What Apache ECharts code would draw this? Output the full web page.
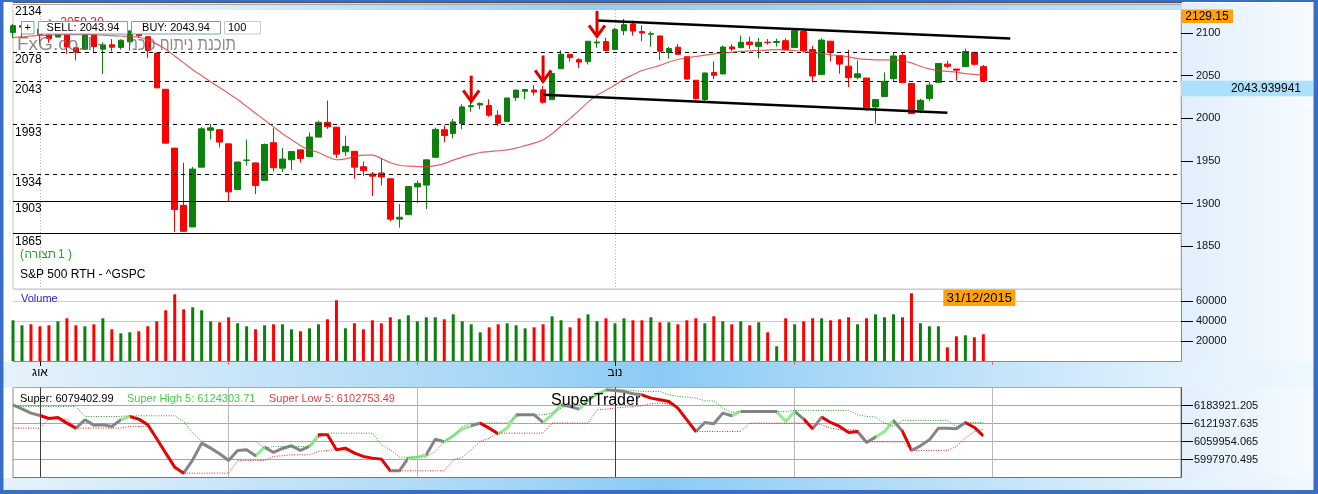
<!DOCTYPE html>
<html><head><meta charset="utf-8">
<script src="https://cdn.jsdelivr.net/npm/echarts@6/dist/echarts.min.js"></script>
<style>html,body{margin:0;padding:0;background:#fff;overflow:hidden}#c{width:1318px;height:494px}</style>
</head><body><div id="c"></div>
<script>
// ---------- DATA ----------
const tradingDays = [
  ['2015-07', [29,30,31]],
  ['2015-08', [3,4,5,6,7,10,11,12,13,14,17,18,19,20,21,24,25,26,27,28,31]],
  ['2015-09', [1,2,3,4,8,9,10,11,14,15,16,17,18,21,22,23,24,25,28,29,30]],
  ['2015-10', [1,2,5,6,7,8,9,12,13,14,15,16,19,20,21,22,23,26,27,28,29,30]],
  ['2015-11', [2,3,4,5,6,9,10,11,12,13,16,17,18,19,20,23,24,25,27,30]],
  ['2015-12', [1,2,3,4,7,8,9,10,11,14,15,16,17,18,21,22,23,24,28,29,30,31]],
  ['2016-01', [4,5,6,7,8,11,12,13,14,15,19,20,21,22,25,26,27,28,29]],
  ['2016-02', [1,2,3]]
];
const monthStarts = ['2015-08-03','2015-09-01','2015-10-01','2015-11-02','2015-12-01','2016-01-04'];
const monthNames = {'2015-08-03':'אוג','2015-11-02':'נוב'};

const opens = [2100.67,2106.78,2111.6,2104.49,2097.68,2095.27,2100.13,2082.61,2080.98,2102.66,
2081.1,2086.19,2083.15,2089.7,2101.99,2095.69,2076.61,2034.08,1965.15,1898.08,
1872.75,1942.77,1986.06,1986.73,1970.09,1916.52,1950.79,1947.76,1927.3,1971.45,
1941.59,1951.45,1963.06,1955.1,1978.02,1995.33,1989.66,1960.84,1961.39,1943.24,
1934.81,1935.93,1929.18,1881.9,1887.14,1919.65,1921.77,1954.33,1986.63,1982.34,
1994.01,2013.73,2015.65,2015,2003.66,1996.47,2024.37,2031.73,2033.13,2033.47,
2021.88,2058.19,2075.08,2068.75,2066.48,2088.35,2090,2080.76,2102.63,2110.6,
2101.68,2098.6,2096.56,2077.19,2083.41,2072.29,2044.64,2022.08,2053.67,2051.99,
2083.7,2082.82,2089.41,2084.42,2089.3,2088.82,2090.95,2082.93,2101.71,2080.71,
2051.24,2090.42,2073.39,2061.17,2047.93,2047.27,2013.37,2025.55,2046.5,2073.76,
2040.81,2010.27,2023.15,2042.2,2063.52,2057.77,2060.54,2077.34,2060.59];
const highs = [2110.6,2110.48,2114.24,2105.7,2102.51,2112.66,2103.32,2082.61,2105.35,2102.66,
2089.06,2092.93,2092.45,2102.87,2103.47,2096.17,2076.61,2034.08,1965.15,1948.04,
1943.09,1989.6,1993.48,1986.73,1970.09,1948.91,1975.01,1947.76,1970.42,1988.63,
1965.29,1961.05,1963.06,1983.52,1997.26,2020.86,1989.66,1979.64,1961.39,1949.52,
1937.17,1952.89,1929.18,1899.48,1920.53,1927.21,1951.36,1989.17,1991.62,1999.31,
2016.5,2020.13,2018.66,2022.34,2009.56,2024.15,2033.54,2034.45,2039.12,2037.97,
2055.2,2079.74,2075.14,2070.37,2090.35,2092.52,2094.32,2106.2,2116.48,2114.59,
2108.78,2101.91,2096.56,2083.67,2086.94,2072.29,2044.64,2053.22,2066.69,2085.31,
2086.74,2097.06,2095.61,2094.12,2093,2093.29,2093.81,2103.37,2104.27,2085,
2093.84,2090.42,2073.85,2080.33,2067.65,2047.27,2022.92,2053.87,2076.72,2076.37,
2040.81,2022.9,2042.74,2064.73,2067.36,2057.77,2081.56,2077.34,2062.54];
const lows = [2094.08,2094.97,2102.07,2087.31,2088.6,2095.27,2075.53,2067.91,2080.98,2076.49,
2052.09,2078.26,2080.61,2079.3,2094.14,2070.53,2035.73,1970.89,1867.01,1867.08,
1872.75,1942.77,1975.19,1965.98,1903.07,1916.52,1944.72,1911.21,1927.3,1937.88,
1937.19,1939.19,1948.27,1954.3,1977.93,1987.67,1953.45,1955.8,1929.22,1932.57,
1908.92,1921.5,1879.21,1871.91,1887.14,1900.7,1893.7,1954.33,1971.99,1976.44,
1987.53,2007.61,2010.55,2001.78,1990.73,1996.47,2020.46,2022.31,2026.61,2017.22,
2021.88,2058.19,2066.53,2058.84,2063.11,2082.63,2079.34,2080.76,2097.51,2096.98,
2090.41,2083.74,2068.24,2069.91,2074.85,2045.66,2022.02,2019.94,2045.9,2051.99,
2078.76,2082.82,2081.39,2070.29,2086.3,2084.13,2080.41,2082.93,2077.11,2042.35,
2051.24,2066.78,2052.32,2036.53,2045.67,2008.8,1993.26,2025.55,2042.43,2041.66,
2005.33,2005.93,2020.49,2042.2,2058.73,2044.2,2060.54,2061.97,2043.62];
const closes = [2108.57,2108.63,2103.84,2098.04,2093.32,2099.84,2083.56,2077.57,2104.18,2084.07,
2086.05,2083.39,2091.54,2102.44,2096.92,2079.61,2035.73,1970.89,1893.21,1867.61,
1940.51,1987.66,1988.87,1972.18,1913.85,1948.86,1951.13,1921.22,1969.41,1942.04,
1952.29,1961.05,1953.03,1978.09,1995.31,1990.2,1958.03,1966.97,1942.74,1938.76,
1932.24,1931.34,1881.77,1884.09,1920.03,1923.82,1951.36,1987.05,1979.92,1995.83,
2013.43,2014.89,2017.46,2003.69,1994.24,2023.86,2033.11,2033.66,2030.77,2018.94,
2052.51,2075.15,2071.18,2065.89,2090.35,2089.41,2079.36,2104.05,2109.79,2102.31,
2099.93,2099.2,2078.58,2081.72,2075,2045.97,2023.04,2053.19,2050.44,2083.58,
2081.24,2089.17,2086.59,2089.14,2088.87,2090.11,2080.41,2102.63,2079.51,2049.62,
2091.69,2077.07,2063.59,2047.62,2052.23,2012.37,2021.94,2043.41,2073.07,2041.89,
2005.55,2021.15,2038.97,2064.29,2060.99,2056.5,2078.36,2063.36,2043.94];
const volumes = [40700,35700,36700,34700,35700,39700,42700,35700,34700,36700,
42700,31700,27700,28700,29700,34700,39700,50700,66700,51700,
53700,50700,39700,38700,43700,37700,34700,31700,35700,36700,
36700,31700,29700,32700,36700,41700,60700,32700,37700,31700,
40700,37700,43700,41700,45700,39700,43700,43700,41700,46700,
39700,36700,28700,33700,36700,37700,35700,32700,33700,36700,
44700,40700,33700,42700,46700,39700,42700,37700,42700,40700,
40700,43700,38700,38700,36700,40700,42700,37700,44700,39700,
36700,39700,35700,38700,28700,14700,42700,36700,39700,42700,
42700,40700,41700,43700,36700,42700,46700,43700,46700,43700,
67700,37700,34700,34700,13700,24700,25700,23700,26700];
const ma20 = [2094.5,2095.5,2096.5,2097,2097.5,2098,2098,2098,2098,2098,
2097.5,2097,2096.5,2096,2095,2092,2087,2081,2073,2065,
2057,2050,2043,2036,2029,2022,2014,2006,1998,1990,
1982,1975,1968,1963,1960,1955,1951.5,1952.5,1955,1957,
1957,1953,1948,1945,1944,1943.5,1943.5,1944.5,1947,1951,
1954.5,1957.5,1960,1961,1962,1963,1965,1968,1971,1975,
1982,1991,2000,2009,2019,2027,2033,2039,2046,2051,
2056,2059,2062,2066,2069,2071,2072.5,2074,2075.5,2076.5,
2077.5,2078.5,2079,2079.5,2080,2080.5,2080,2079.5,2078.5,2077,
2076,2074.5,2073.5,2072,2070,2069,2068.5,2068.5,2068.5,2067.5,
2065,2061,2058,2056,2055,2054,2052.5,2051.5,2050.3];
const superLine = [6186330,6172560,6157640,6149600,6139270,6142720,6123200,6105990,6134680,6116320,
6117460,6111730,6134680,6146160,6136980,6117460,6069260,6019900,5971690,5951030,
5996950,6054340,6037120,6017610,5994650,6029080,6031380,6010720,6040560,6022200,
6035970,6045150,6029080,6042860,6083030,6083030,6031380,6037120,6019900,6008420,
6002680,5999240,5959070,5959070,6002680,6006130,6014160,6068110,6058930,6079590,
6102540,6114020,6123200,6105990,6086470,6105990,6151900,6151900,6151900,6125500,
6151900,6186330,6180590,6171410,6201250,6224210,6237980,6235690,6232240,6224210,
6220770,6209290,6203550,6197810,6174850,6134680,6094510,6125500,6120910,6157640,
6148460,6163380,6163380,6163380,6163380,6163380,6128940,6163380,6136980,6103690,
6143860,6125500,6111730,6091070,6094510,6056630,6075000,6094510,6132390,6094510,
6029080,6045150,6065810,6105990,6105990,6103690,6125500,6108280,6079402.99];
const superHigh5 = [6180590,6180590,6180590,6180590,6180590,6180590,6180590,6180590,6146160,6146160,
6146160,6146160,6146160,6148460,6148460,6148460,6148460,6148460,6148460,6128940,
6088770,6060070,6060070,6060070,6060070,6060070,6060070,6060070,6037120,6042860,
6042860,6042860,6042860,6042860,6071550,6088770,6088770,6088770,6088770,6088770,
6088770,6048600,6031380,6006130,6006130,6006130,6006130,6025640,6060070,6077290,
6111730,6123200,6123200,6123200,6123200,6123200,6146160,6151900,6151900,6151900,
6157640,6174850,6186330,6186330,6197810,6220770,6235690,6237980,6237980,6235690,
6232240,6232240,6232240,6220770,6215030,6212730,6209290,6200100,6200100,6174850,
6159930,6163380,6163380,6163380,6163380,6163380,6163380,6166820,6166820,6166820,
6166820,6166820,6166820,6166820,6151900,6146160,6143860,6123200,6111730,6132390,
6132390,6132390,6132390,6132390,6132390,6111730,6125500,6125500,6124303.71];
const superLow5 = [6105990,6105990,6105990,6105990,6136980,6136980,6136980,6105990,6105990,6105990,
6105990,6105990,6105990,6111730,6111730,6111730,6065810,6017610,5971690,5951030,
5951030,5951030,5951030,5951030,5951030,5994650,5994650,5994650,5994650,6008420,
6010720,6014160,6014160,6014160,6025640,6029080,6031380,6029080,6025640,6010720,
5999240,5996950,5962510,5959070,5959070,5959070,5959070,5959070,5959070,5996950,
6006130,6031380,6060070,6071550,6088770,6088770,6088770,6088770,6088770,6088770,
6123200,6123200,6123200,6123200,6123200,6169120,6171410,6174850,6178300,6180590,
6182890,6189770,6192070,6189770,6174850,6134680,6094510,6094510,6094510,6094510,
6094510,6094510,6123200,6123200,6123200,6123200,6123200,6123200,6123200,6120910,
6117460,6105990,6100250,6100250,6100250,6058930,6058930,6058930,6058930,6058930,
6029080,6029080,6029080,6029080,6029080,6042860,6071550,6094510,6102753.49];
// trend state of each Super segment: g = neutral, r = falling, l = rising
const superState = 'ggg'+'rrrr'+'ggggg'+'l'+'rrrrrr'+'gggggggg'+'l'+'ggggg'+'l'+'rrrrrrrr'+'gg'+'ll'+'gg'+'lll'+'g'+'rr'+'ll'+'ggg'+'ll'+'gg'+'lll'+'gggg'+'rrrrrr'+'gggg'+'l'+'gggg'+'ll'+'g'+'r'+'g'+'rrrr'+'gg'+'ll'+'g'+'r'+'gggggg'+'rr';

const dashedLevels = [2078, 2043, 1993, 1934];
const solidLevels = [1903, 1865];
const topLevel = 2134;
const upperTrend = [['2015-10-29', 2114.8], ['2016-01-06', 2093.7]];
const lowerTrend = [['2015-10-21', 2027.7], ['2015-12-24', 2006.6]];
const arrows = [['2015-10-09', 2050, 2019.8], ['2015-10-21', 2073.7, 2043.3], ['2015-10-29', 2126, 2096]];
const headerPrice = 2129.15;
const lastPriceLabel = '2043.939941';
const lastDateLabel = '31/12/2015';
const hiddenQuote = '2059.30';
const superAxis = {min: 5935986.925, max: 6245904.775, interval: 61983.57};

// ---------- BUILD ----------
const dates = [];
tradingDays.forEach(([m, ds]) => ds.forEach(d => dates.push(m + '-' + String(d).padStart(2, '0'))));
const n = closes.length;
const FONT = '"Liberation Sans", Arial, sans-serif';
const GREEN = '#0b800b', RED = '#ff0000';
const fmt2 = v => v.toFixed(2);

const chart = echarts.init(document.getElementById('c'), null, {renderer: 'canvas', width: 1318, height: 494});

const stateColor = {g: '#858585', r: '#e40000', l: '#92ea92'};
const pieces = [];
for (let i = 0; i < superState.length; i++) {
  const c = stateColor[superState[i]];
  const last = pieces[pieces.length - 1];
  if (last && last.color === c && last.lt === i) last.lt = i + 1;
  else pieces.push({gte: i, lt: i + 1, color: c});
}

const L = 13, R = 137;
const option = {
  animation: false,
  backgroundColor: '#ffffff',
  textStyle: {fontFamily: FONT},
  grid: [
    {left: L, right: R, top: 4, height: 285, show: true, borderColor: '#c4c4c4', borderWidth: 1, backgroundColor: 'transparent'},
    {left: L, right: R, top: 289, height: 72, show: false},
    {left: L, right: R, top: 387.5, height: 90, show: true, borderColor: '#8c8c8c', borderWidth: 1, backgroundColor: '#ffffff'}
  ],
  xAxis: [
    {type: 'category', gridIndex: 0, data: dates, boundaryGap: false,
     axisLine: {show: false}, axisTick: {show: false}, axisLabel: {show: false},
     splitLine: {show: true, interval: (i, v) => v in monthNames, lineStyle: {color: '#b4b4b4', type: [1, 2]}}},
    {type: 'category', gridIndex: 1, data: dates, boundaryGap: false, position: 'bottom',
     axisLine: {show: true, lineStyle: {color: '#8c8c8c'}},
     axisTick: {show: true, length: 5, interval: (i, v) => v in monthNames, lineStyle: {color: '#000'}},
     axisLabel: {show: true, interval: (i, v) => v in monthNames, formatter: v => monthNames[v] || '',
                 fontSize: 12, color: '#000', margin: 6, fontFamily: FONT},
     splitLine: {show: false}},
    {type: 'category', gridIndex: 1, data: dates, boundaryGap: false, position: 'bottom',
     axisLine: {show: false},
     axisTick: {show: true, length: 4, interval: (i, v) => monthStarts.includes(v) && !(v in monthNames), lineStyle: {color: '#e06c6c'}},
     axisLabel: {show: false}, splitLine: {show: false}},
    {type: 'category', gridIndex: 2, data: dates, boundaryGap: false,
     axisLine: {show: true, lineStyle: {color: '#777'}}, axisTick: {show: false}, axisLabel: {show: false},
     splitLine: {show: true, interval: (i, v) => monthStarts.includes(v), lineStyle: {color: ['#3c3c3c', '#b8b8b8', '#b8b8b8'], width: 1}}}
  ],
  yAxis: [
    {type: 'value', gridIndex: 0, position: 'right', min: 1800, max: topLevel, interval: 50,
     axisLine: {show: true, lineStyle: {color: '#9a9a9a', type: [1, 1]}},
     axisTick: {show: true, length: 12, lineStyle: {color: '#000'}},
     axisLabel: {show: true, margin: 15, fontSize: 11, color: '#111', fontFamily: FONT, showMinLabel: false, showMaxLabel: false,
                 formatter: v => String(Math.round(v))},
     splitLine: {show: false}},
    {type: 'value', gridIndex: 1, position: 'right', min: 0, max: 72000, interval: 20000,
     axisLine: {show: true, lineStyle: {color: '#8c8c8c'}},
     axisTick: {show: true, length: 12, lineStyle: {color: '#000'}},
     axisLabel: {show: true, margin: 15, fontSize: 11, color: '#111', fontFamily: FONT, showMinLabel: false, showMaxLabel: false,
                 formatter: v => String(Math.round(v))},
     splitLine: {show: true, lineStyle: {color: '#cdcdcd'}}},
    {type: 'value', gridIndex: 2, position: 'right', min: superAxis.min, max: superAxis.max, interval: superAxis.interval,
     axisLine: {show: true, lineStyle: {color: '#555'}},
     axisTick: {show: true, length: 12, lineStyle: {color: '#000'}},
     axisLabel: {show: true, margin: 13, fontSize: 11, color: '#111', fontFamily: FONT, showMinLabel: false, showMaxLabel: false,
                 formatter: v => (Math.round(v * 1000) / 1000).toFixed(3)},
     splitLine: {show: true, lineStyle: {color: '#a8a8a8'}}}
  ],
  visualMap: [{type: 'piecewise', show: false, dimension: 0, seriesIndex: 6, pieces: pieces, outOfRange: {color: '#858585'}}],
  series: [
    {type: 'candlestick', name: 'S&P 500', xAxisIndex: 0, yAxisIndex: 0, barWidth: 6, z: 2,
     data: opens.map((o, i) => [o, closes[i], lows[i], highs[i]]),
     itemStyle: {color: GREEN, color0: RED, borderColor: GREEN, borderColor0: RED, borderWidth: 1},
     markLine: {symbol: 'none', silent: true, animation: false, z: 3,
       label: {show: true, position: 'insideStartBottom', formatter: '{c}', color: '#000', fontSize: 12, fontFamily: FONT, distance: 2},
       data: [
         ...dashedLevels.map(v => ({yAxis: v, lineStyle: {type: [4, 4], color: '#000', width: 1}})),
         ...solidLevels.map(v => ({yAxis: v, lineStyle: {type: 'solid', color: '#000', width: 1}})),
         {yAxis: topLevel, lineStyle: {type: 'solid', color: '#a8a8a8', width: 1}}
       ]}},
    {type: 'line', name: 'MA20', xAxisIndex: 0, yAxisIndex: 0, data: ma20, symbol: 'none', smooth: 0.3, z: 3,
     lineStyle: {color: '#e03a3a', width: 1.2, opacity: 0.8}},
    {type: 'line', name: 'upper', xAxisIndex: 0, yAxisIndex: 0, data: upperTrend, symbol: 'none', z: 4,
     lineStyle: {color: '#000', width: 2.5}},
    {type: 'line', name: 'lower', xAxisIndex: 0, yAxisIndex: 0, data: lowerTrend, symbol: 'none', z: 4,
     lineStyle: {color: '#000', width: 2.5}},
    {type: 'custom', name: 'arrows', xAxisIndex: 0, yAxisIndex: 0, data: arrows, encode: {x: 0, y: [1, 2]}, z: 5,
     renderItem: (params, api) => {
       const top = api.coord([api.value(0), api.value(1)]);
       const tip = api.coord([api.value(0), api.value(2)]);
       return {type: 'group', children: [
         {type: 'line', shape: {x1: top[0], y1: top[1], x2: tip[0], y2: tip[1] - 1}, style: {stroke: '#e00000', lineWidth: 3}},
         {type: 'polyline', shape: {points: [[tip[0] - 8, tip[1] - 11], [tip[0], tip[1]], [tip[0] + 8, tip[1] - 11]]},
          style: {stroke: '#e00000', lineWidth: 3, fill: null}}
       ]};
     }},
    {type: 'bar', name: 'Volume', xAxisIndex: 1, yAxisIndex: 1, barWidth: 3,
     data: volumes.map((v, i) => ({value: v, itemStyle: {color: closes[i] >= opens[i] ? GREEN : RED}}))},
    {type: 'line', name: 'Super', xAxisIndex: 3, yAxisIndex: 2, data: superLine, symbol: 'none', z: 4,
     lineStyle: {width: 3}},
    {type: 'line', name: 'Super High 5', xAxisIndex: 3, yAxisIndex: 2, data: superHigh5, symbol: 'none', z: 5,
     lineStyle: {color: '#2f9a2f', width: 1, type: [1, 1.5]}},
    {type: 'line', name: 'Super Low 5', xAxisIndex: 3, yAxisIndex: 2, data: superLow5, symbol: 'none', z: 5,
     lineStyle: {color: '#e02424', width: 1, type: [1, 1.5]}}
  ]
};
chart.setOption(option);

// ---------- OVERLAYS ----------
const yLast = chart.convertToPixel({yAxisIndex: 0}, closes[n - 1]);
const xLast = chart.convertToPixel({xAxisIndex: 1}, dates[n - 1]);
const BLUE = '#3a6ec6';
const band = () => new echarts.graphic.LinearGradient(0, 0, 1, 0, [
  {offset: 0, color: '#e6f2fb'}, {offset: 0.38, color: '#a6d6f6'}, {offset: 0.5, color: '#8ccaf4'},
  {offset: 0.75, color: '#c2e3f9'}, {offset: 0.9, color: '#e2f1fc'}, {offset: 1, color: '#eef8ff'}]);
const txt = (x, y, text, o = {}) => ({type: 'text', z: o.z || 50, x: x, y: y, scaleX: o.scaleX || 1,
  style: {text: text, fill: o.fill || '#000', font: (o.size || 12) + 'px ' + FONT,
          textAlign: o.align || 'left', align: o.align || 'left', textVerticalAlign: 'middle', verticalAlign: 'middle',
          opacity: o.opacity == null ? 1 : o.opacity}});
const box = (x, y, w, h, fill, stroke, z) => ({type: 'rect', z: z || 45, shape: {x: x, y: y, width: w, height: h},
  style: {fill: fill, stroke: stroke || null, lineWidth: 1}});

// fit the Hebrew part of the watermark into its span
const mctx = document.createElement('canvas').getContext('2d');
const wmHeb = 'תוכנת ניתוח טכני';
mctx.font = '19px ' + FONT;
const hebW = mctx.measureText(wmHeb).width || 110;
const hebScale = Math.min(1.2, 108 / hebW);

const G = [
  // backgrounds
  {type: 'rect', z: -10, shape: {x: 1182, y: 3, width: 132, height: 487},
   style: {fill: new echarts.graphic.LinearGradient(0, 0, 1, 0, [{offset: 0, color: '#e1effb'}, {offset: 1, color: '#f6fbff'}])}},
  {type: 'rect', z: -9, shape: {x: 3, y: 361.5, width: 1311, height: 26}, style: {fill: band()}},
  {type: 'rect', z: -9, shape: {x: 3, y: 478, width: 1311, height: 12}, style: {fill: band()}},
  {type: 'rect', z: 1, shape: {x: 13, y: 2.5, width: 1169, height: 7.5}, style: {fill: new echarts.graphic.LinearGradient(0, 0, 1, 0, [
    {offset: 0, color: '#ffffff'}, {offset: 0.2, color: '#d6ebfa'}, {offset: 0.5, color: '#92cdf5'}, {offset: 1, color: '#bfe2f9'}])}},
  // frame
  {type: 'rect', z: 60, shape: {x: 0, y: 0, width: 1318, height: 2}, style: {fill: BLUE}},
  {type: 'rect', z: 60, shape: {x: 13, y: 2.2, width: 1169, height: 0.8}, style: {fill: '#222'}},
  {type: 'rect', z: 60, shape: {x: 0, y: 0, width: 3.5, height: 494}, style: {fill: BLUE}},
  {type: 'rect', z: 60, shape: {x: 1313.5, y: 0, width: 4.5, height: 494}, style: {fill: BLUE}},
  {type: 'rect', z: 60, shape: {x: 0, y: 490, width: 1318, height: 4}, style: {fill: BLUE}},
  // watermark + header controls
  txt(47, 22.5, '\u2198 ' + hiddenQuote, {fill: '#e02020', size: 12, z: 44}),
  txt(17, 45, 'FxG.co.il -', {size: 19, fill: '#6e6e6e', opacity: 0.8, z: 40}),
  {type: 'text', z: 40, x: 236, y: 45, scaleX: hebScale,
   style: {text: wmHeb, fill: '#6e6e6e', opacity: 0.8, font: '19px ' + FONT, textAlign: 'right', align: 'right',
           textVerticalAlign: 'middle', verticalAlign: 'middle'}},
  box(21.5, 21.5, 12.5, 12.5, '#ffffff', '#7f9db9'),
  txt(27.8, 27.6, '+', {size: 11, align: 'center', z: 46}),
  box(38.5, 21.5, 89, 12.5, '#ffffff', '#7f9db9'),
  txt(83, 27.8, 'SELL: ' + fmt2(closes[n - 1]), {size: 11, align: 'center', z: 46}),
  box(131.5, 21.5, 89, 12.5, '#ffffff', '#7f9db9'),
  txt(176, 27.8, 'BUY: ' + fmt2(closes[n - 1]), {size: 11, align: 'center', z: 46}),
  box(224.5, 21.5, 36, 12.5, '#ffffff', '#c8c8c8'),
  txt(228, 27.8, '100', {size: 11, z: 46}),
  // pane captions
  txt(20, 255, '(', {size: 12, fill: '#2f9a2f'}),
  txt(24.5, 255, 'תצורה', {size: 12, fill: '#2f9a2f'}),
  txt(58, 255, '1 )', {size: 12, fill: '#2f9a2f'}),
  txt(20, 275, 'S&P 500 RTH - ^GSPC', {size: 12}),
  txt(21, 299, 'Volume', {size: 11, fill: '#2424d0'}),
  // labels on right axis
  box(1181, 9.5, 52, 13.5, '#ffa10c', null, 55),
  txt(1207, 16.5, headerPrice.toFixed(2), {size: 12, align: 'center', z: 56}),
  box(1181, yLast, 132, 15.5, '#ade0fa', null, 55),
  txt(1301, yLast + 8, lastPriceLabel, {size: 12, align: 'right', z: 56}),
  box(xLast - 40, 289.5, 72, 16.5, '#ffa10c', null, 55),
  txt(xLast - 4, 298, lastDateLabel, {size: 13, align: 'center', z: 56}),
  // lower pane legend
  txt(20, 399, 'Super: ' + fmt2(superLine[n - 1]), {size: 11}),
  txt(127, 399, 'Super High 5: ' + fmt2(superHigh5[n - 1]), {size: 11, fill: '#45cf45'}),
  txt(269, 399, 'Super Low 5: ' + fmt2(superLow5[n - 1]), {size: 11, fill: '#e83a3a'}),
  txt(551, 400.5, 'SuperTrader', {size: 16})
];
chart.setOption({graphic: {elements: G}});
</script>
</body></html>
